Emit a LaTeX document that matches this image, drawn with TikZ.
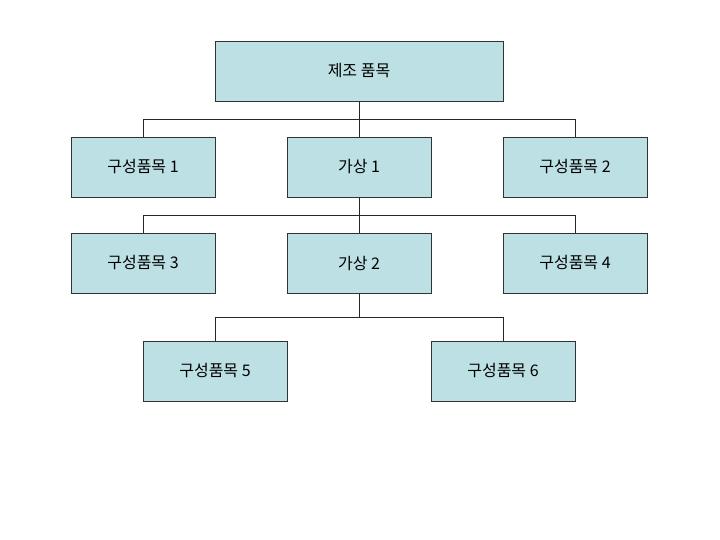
\documentclass[tikz,border=0pt]{standalone}
\usepackage{fontspec}
\setmainfont{Noto Sans CJK KR}
\usetikzlibrary{positioning}
\definecolor{boxfill}{RGB}{188,224,228}

\begin{document}
\begin{tikzpicture}[
    x=1pt, y=-1pt,
    item/.style={rectangle, draw=black!80, fill=boxfill, minimum width=144pt, minimum height=60pt, font=\fontsize{16}{18}\selectfont, inner sep=0pt},
    link/.style={draw=black!85, line width=0.6pt}
]
\useasboundingbox (0,0) rectangle (720,540);

% Top item
\node[item, minimum width=288pt] (top) at (359,71) {제조 품목};

% Row 1
\node[item] (c1) at (143,167) {구성품목 1};
\node[item] (v1) at (359,167) {가상 1};
\node[item] (c2) at (575,167) {구성품목 2};

% Row 2
\node[item] (c3) at (143,263) {구성품목 3};
\node[item] (v2) at (359,263) {가상 2};
\node[item] (c4) at (575,263) {구성품목 4};

% Row 3
\node[item] (c5) at (215,371) {구성품목 5};
\node[item] (c6) at (503,371) {구성품목 6};

% Connectors
\draw[link] (top.south) -- ++(0,18) coordinate (b1);
\draw[link] (c1.north) |- (b1) -| (c2.north);
\draw[link] (b1) -- (v1.north);

\draw[link] (v1.south) -- ++(0,18) coordinate (b2);
\draw[link] (c3.north) |- (b2) -| (c4.north);
\draw[link] (b2) -- (v2.north);

\draw[link] (v2.south) -- ++(0,24) coordinate (b3);
\draw[link] (c5.north) |- (b3) -| (c6.north);
\end{tikzpicture}
\end{document}
